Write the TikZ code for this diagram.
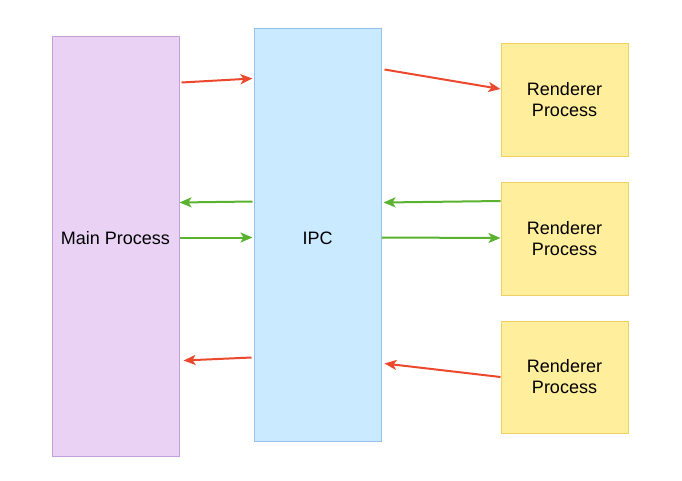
\documentclass[tikz,border=0pt]{standalone}
\usepackage{fontspec}
\setmainfont{Liberation Sans}
\usetikzlibrary{arrows.meta,calc}
\definecolor{mainfill}{RGB}{234,210,245}
\definecolor{mainline}{RGB}{196,160,218}
\definecolor{ipcfill}{RGB}{201,234,255}
\definecolor{ipcline}{RGB}{150,192,240}
\definecolor{rfill}{RGB}{255,238,155}
\definecolor{rline}{RGB}{240,208,100}
\definecolor{ared}{RGB}{236,72,45}
\definecolor{agreen}{RGB}{90,178,48}
\tikzset{
  lbl/.style={inner sep=0pt, align=center, font=\fontsize{18}{21}\selectfont},
  box/.style={draw, line width=1pt, inner sep=0pt, minimum width=127pt, lbl},
  mainbox/.style={box, fill=mainfill, draw=mainline},
  ipcbox/.style={box, fill=ipcfill, draw=ipcline},
  rbox/.style={box, fill=rfill, draw=rline},
  redarrow/.style={draw=ared, line width=2pt, -{Stealth[length=12pt,width=10pt,inset=3pt]}},
  greenarrow/.style={draw=agreen, line width=2pt, -{Stealth[length=12pt,width=10pt,inset=3pt]}}
}
\begin{document}
\begin{tikzpicture}[x=1pt,y=-1pt]
\useasboundingbox (0,0) rectangle (682,480);
\node[mainbox, minimum height=420pt] (main) at (115.5,246) {};
\node[lbl] (maintext) at (115.5,238.5) {Main Process};
\node[ipcbox, minimum height=413pt] (ipc) at (317.5,234.5) {};
\node[lbl] (ipctext) at (317.5,238.5) {IPC};
\node[rbox, minimum height=113pt] (r1) at (564.5,99.5) {Renderer\\Process};
\node[rbox, minimum height=113pt] (r2) at (564.5,238.5) {Renderer\\Process};
\node[rbox, minimum height=112pt] (r3) at (564.5,377) {Renderer\\Process};

\draw[redarrow] ($(main.north east)+(2,47)$) -- ($(ipc.north west)+(-1,51)$);
\draw[redarrow] ($(ipc.north east)+(3,42)$) -- ($(r1.west)+(0,-10.5)$);
\draw[greenarrow] ($(ipc.north west)+(-1,174)$) -- ($(main.north east)+(0,167)$);
\draw[greenarrow] ($(main.north east)+(0,202)$) -- ($(ipc.north west)+(-1,210)$);
\draw[greenarrow] ($(r2.west)+(0,-37.5)$) -- ($(ipc.north east)+(2,175)$);
\draw[greenarrow] ($(ipc.north east)+(0,210)$) -- ($(r2.west)+(0,-0.5)$);
\draw[redarrow] ($(ipc.north west)+(-2,330)$) -- ($(main.north east)+(4,325)$);
\draw[redarrow] (r3.west) -- ($(ipc.north east)+(3,336)$);
\end{tikzpicture}
\end{document}
